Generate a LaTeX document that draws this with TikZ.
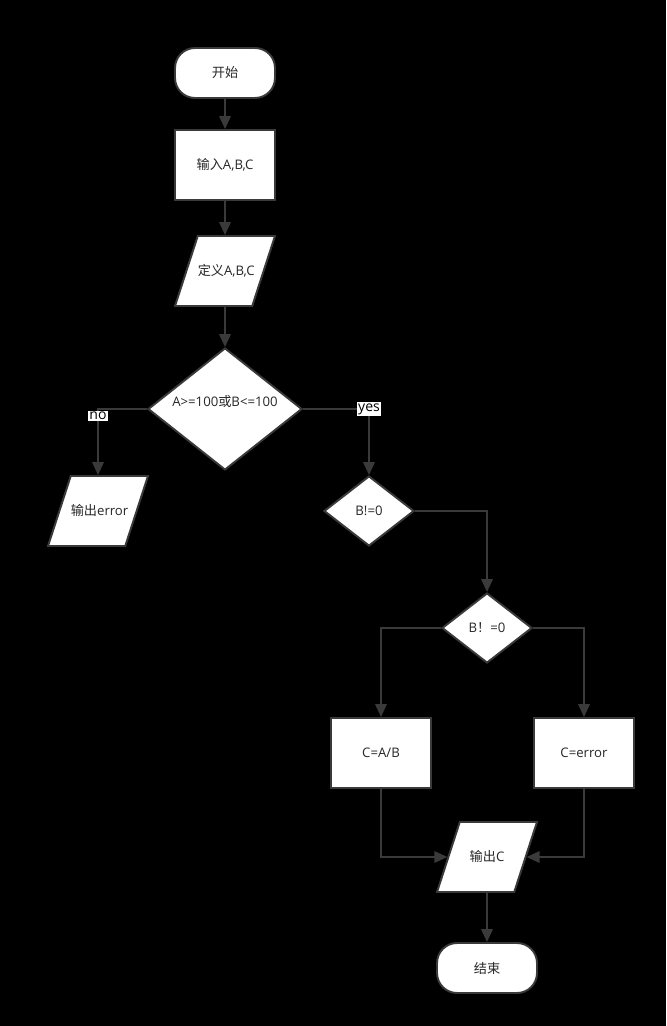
\documentclass[tikz,border=0pt]{standalone}
\usepackage{fontspec}
\setmainfont{Open Sans}
\newfontfamily\cjk{Noto Sans CJK SC}
\usetikzlibrary{arrows.meta,shapes.geometric}
\definecolor{edge}{RGB}{58,58,58}
\definecolor{ink}{RGB}{40,40,40}
\tikzset{
  base/.style={draw=edge,line width=1.1pt,fill=white,text=ink,
    font=\fontsize{7.5pt}{9pt}\selectfont,align=center,inner sep=0pt},
  term/.style={base,rectangle,rounded corners=0.4cm,
    minimum width=2cm,minimum height=1cm},
  proc/.style={base,rectangle,minimum width=2cm,minimum height=1.4cm},
  % parallelogram: body 1.09cm wide, legs from the 1.4cm height
  io/.style={base,trapezium,trapezium left angle=72,trapezium right angle=108,
    text width=1.09cm,text height=0.22cm,text depth=0.05cm,
    inner xsep=0pt,inner ysep=0.565cm},
  test/.style={base,diamond,aspect=1.26},
  lbl/.style={fill=white,text=black,inner sep=0.6pt,
    font=\fontsize{8pt}{9pt}\selectfont},
  arr/.style={-{Triangle[length=2.6mm,width=2.3mm]},draw=edge,line width=1.1pt}
}
\begin{document}
\begin{tikzpicture}[x=0.02cm,y=-0.02cm]
  \fill[black] (0,0) rectangle (666,1026);
  % main column
  \node[term] (start) at (225,73) {\cjk 开始};
  \node[proc] (input) at (225,165) {{\cjk 输入}A,B,C};
  \node[io] (define) at (225,271) {{\cjk 定义}A,B,C};
  \node[test,minimum width=3.08cm,minimum height=2.44cm,text height=0.2cm,
    text depth=0.3cm] (cond) at (225,409) {A>=100{\cjk 或}B<=100};
  % branches
  \node[io] (outerr) at (98,511) {{\cjk 输出}error};
  \node[test,minimum width=1.8cm,minimum height=1.4cm] (chkone) at (369,511) {B!=0};
  \node[test,minimum width=1.8cm,minimum height=1.4cm] (chktwo) at (487,628) {B{\cjk ！}=0};
  \node[proc] (cab) at (381,753) {C=A/B};
  \node[proc] (cerr) at (584,753) {C=error};
  \node[io] (outc) at (487,857) {{\cjk 输出}C};
  \node[term] (stop) at (487,968) {\cjk 结束};

  \draw[arr] (start) -- (input);
  \draw[arr] (input) -- (define);
  \draw[arr] (define) -- (cond);
  \draw[arr] (cond.west) -| node[lbl,pos=0.5,yshift=-0.14cm] {no} (outerr.north);
  \draw[arr] (cond.east) -| node[lbl,pos=0.5] {yes} (chkone.north);
  \draw[arr] (chkone.east) -| (chktwo.north);
  \draw[arr] (chktwo.west) -| (cab.north);
  \draw[arr] (chktwo.east) -| (cerr.north);
  \draw[arr] (cab.south) |- (outc);
  \draw[arr] (cerr.south) |- (outc);
  \draw[arr] (outc) -- (stop);
\end{tikzpicture}
\end{document}
